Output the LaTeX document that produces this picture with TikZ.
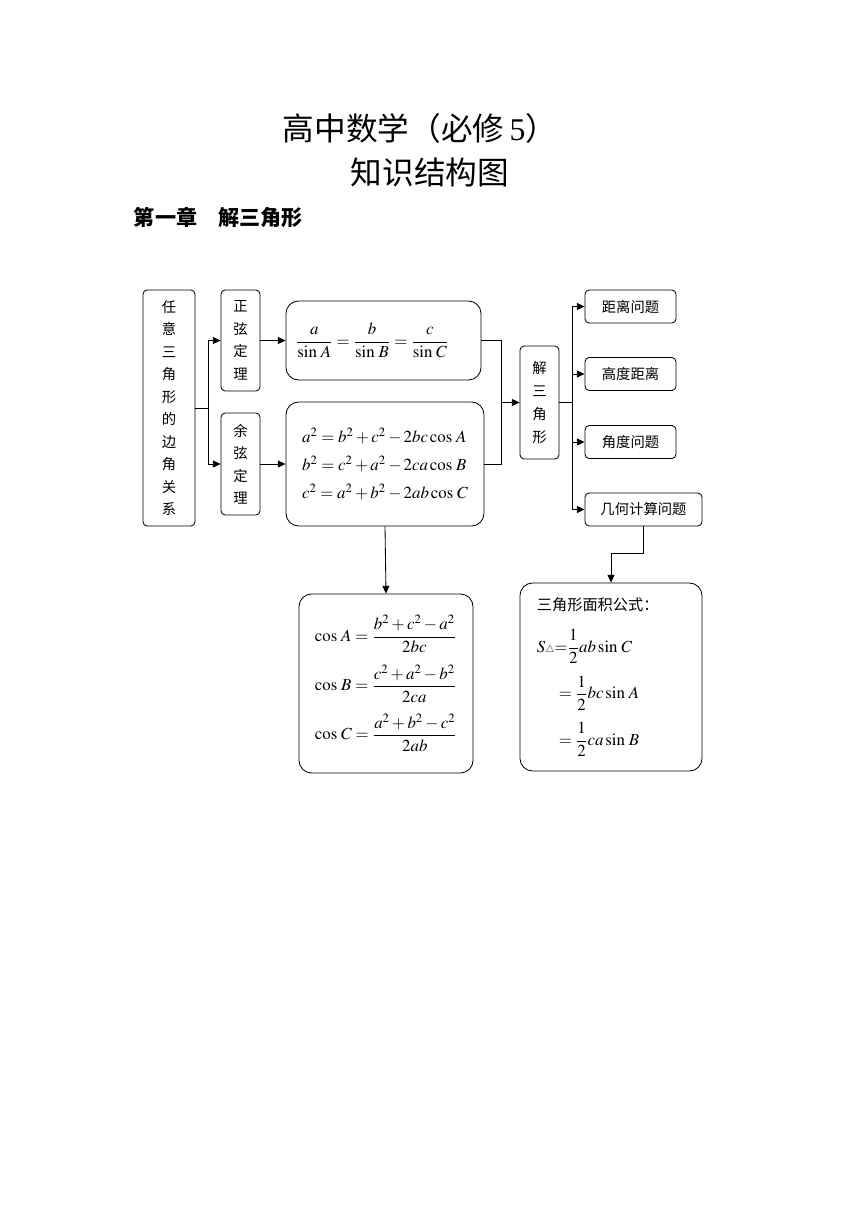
\documentclass[tikz,border=0pt]{standalone}
\usepackage{amsmath,amssymb}
\usepackage{mathptmx}
\usepackage{fontspec}
\setmainfont{Liberation Serif}
\newfontfamily\cjk{Noto Sans CJK SC}
\usetikzlibrary{arrows.meta,positioning}

\tikzset{
  box/.style={draw, line width=0.6pt, rounded corners=3pt, inner sep=0pt,
    font=\cjk\fontsize{10.2}{16}\selectfont, align=center},
  bigbox/.style={draw, line width=0.6pt, rounded corners=9pt, inner sep=0pt},
  link/.style={line width=0.6pt, -{Triangle[length=5.5pt,width=5pt]}},
  seg/.style={line width=0.6pt}
}
\newcommand{\Sin}{\sin\,}
\newcommand{\Cos}{\cos\,}

\begin{document}
\begin{tikzpicture}[x=0.025cm,y=-0.025cm]
  \useasboundingbox[fill=white] (0,0) rectangle (860,1216);
  % titles
  \node (t1) at (420,128) {\fontsize{22.5}{26}\selectfont{\cjk 高中数学（必修}\,5{\cjk ）}};
  \node[font=\cjk\fontsize{22.5}{26}\selectfont] (t2) at (430,172) {知识结构图};
  \node[anchor=west, font=\cjk\bfseries\fontsize{15}{18}\selectfont] (ch) at (129,217) {第一章　解三角形};
  % left column
  \node[box, minimum width=1.3cm, minimum height=5.9cm] (ren) at (169,408)
    {任\\意\\三\\角\\形\\的\\边\\角\\关\\系};
  \node[box, minimum width=0.975cm, minimum height=2.525cm] (zx) at (240.5,340.5)
    {正\\弦\\定\\理};
  \node[box, minimum width=0.975cm, minimum height=2.55cm] (yx) at (240.5,464)
    {余\\弦\\定\\理};
  % formula boxes
  \node[bigbox, minimum width=4.875cm, minimum height=1.975cm] (sinbox) at (383.5,340.5)
    {\fontsize{12}{14}\selectfont$\dfrac{a}{\Sin A}=\dfrac{b}{\Sin B}=\dfrac{c}{\Sin C}$\kern16pt};
  \node[bigbox, minimum width=4.95cm, minimum height=3.1cm, align=left,
    font=\fontsize{12}{20}\selectfont] (cosbox) at (385,464)
    {$a^2=b^2+c^2-2bc\Cos A$\\ $b^2=c^2+a^2-2ca\Cos B$\\ $c^2=a^2+b^2-2ab\Cos C$};
  % middle
  \node[box, minimum width=0.975cm, minimum height=2.825cm, font=\cjk\fontsize{10.2}{16.5}\selectfont]
    (jie) at (539.5,402.5) {解\\三\\角\\形};
  % right column
  \node[box, minimum width=2.275cm, minimum height=0.825cm] (q1) at (630.5,306.5) {距离问题};
  \node[box, minimum width=2.275cm, minimum height=0.825cm] (q2) at (630.5,374) {高度距离};
  \node[box, minimum width=2.275cm, minimum height=0.825cm] (q3) at (630.5,442) {角度问题};
  \node[box, minimum width=2.925cm, minimum height=0.825cm] (q4) at (643.5,509.5) {几何计算问题};
  % lower boxes
  \node[bigbox, minimum width=4.35cm, minimum height=4.475cm, align=left,
    font=\fontsize{12}{35}\selectfont] (cosf) at (386,683.5)
    {$\Cos A=\dfrac{b^2+c^2-a^2}{2bc}$\\
     $\Cos B=\dfrac{c^2+a^2-b^2}{2ca}$\\
     $\Cos C=\dfrac{a^2+b^2-c^2}{2ab}$};
  \node[bigbox, minimum width=4.55cm, minimum height=4.7cm, text width=3.7cm, align=left,
    font=\fontsize{12}{33}\selectfont] (area) at (611,677)
    {{\cjk\fontsize{10.8}{12}\selectfont 三角形面积公式：}\\[-3pt]
     $S{\scriptscriptstyle\triangle}{=}\dfrac{1}{2}ab\Sin C$\\
     \hspace{1.3em}$=\dfrac{1}{2}bc\Sin A$\\
     \hspace{1.3em}$=\dfrac{1}{2}ca\Sin B$};
  % connectors
  \coordinate (b1) at (208,408);
  \draw[seg] (ren.east) -- (b1);
  \draw[link] (b1) |- (zx.west);
  \draw[link] (b1) |- (yx.west);
  \draw[link] (zx.east) -- (zx.east -| sinbox.west);
  \draw[link] (yx.east) -- (yx.east -| cosbox.west);
  \coordinate (mj) at (501,402.5);
  \draw[seg] (sinbox.east) -| (mj);
  \draw[seg] (cosbox.east) -| (mj);
  \draw[link] (mj) -- (jie.west);
  \coordinate (bj) at (572,402.5);
  \draw[seg] (jie.east) -- (bj);
  \draw[link] (bj) |- (q1.west);
  \draw[link] (bj) |- (q2.west);
  \draw[link] (bj) |- (q3.west);
  \draw[link] (bj) |- (q4.west);
  \draw[link] (cosbox.south) -- (cosf.north);
  \draw[link] (q4.south) -- ++(0,27) -| (area.north);
\end{tikzpicture}
\end{document}
